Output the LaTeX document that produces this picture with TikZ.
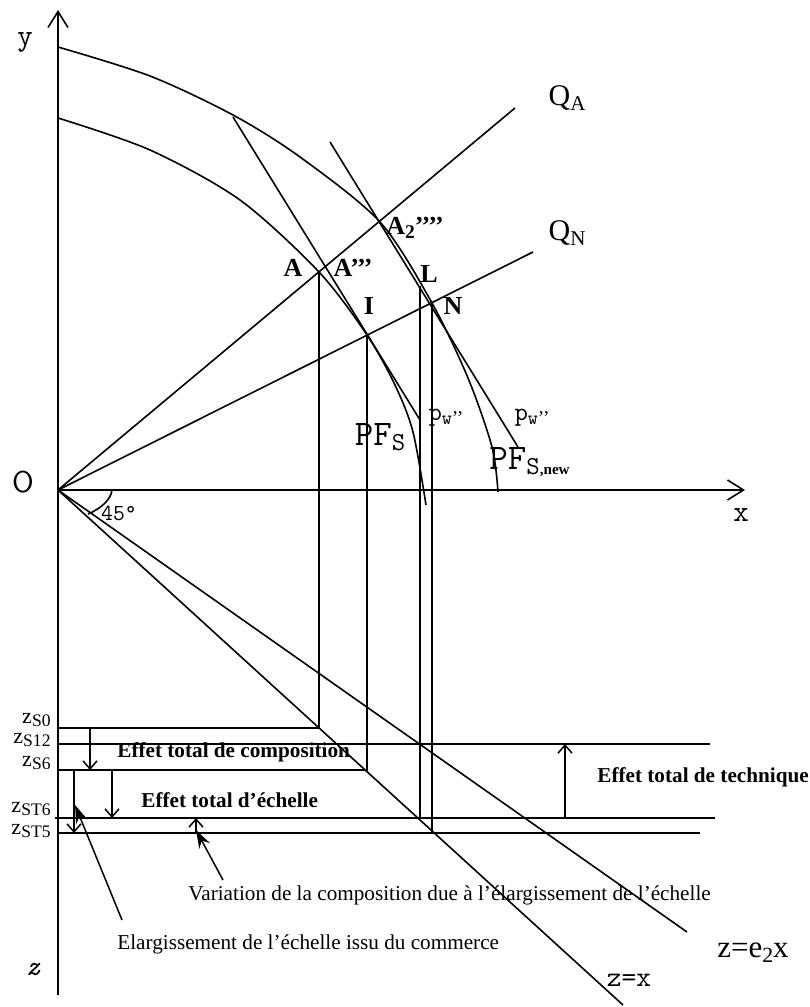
\documentclass[tikz,border=0pt]{standalone}
\usepackage{graphicx}
\usepackage{fontspec}
\setmainfont{Liberation Serif}
\usetikzlibrary{arrows.meta, calc}
\newcommand{\lowsub}[2][0.7]{\raisebox{-0.35ex}{\scalebox{#1}{#2}}}

\begin{document}
\begin{tikzpicture}[
    x=0.5pt, y=-0.5pt,
    every node/.style={inner sep=0pt, font=\fontsize{10.6}{12}\selectfont},
    thin line/.style={line width=0.8pt},
    axis/.style={line width=0.8pt, -{Straight Barb[length=8pt, width=10pt]}},
    pt/.style={font=\fontsize{13}{15}\selectfont\bfseries},
    tw/.style={font=\fontsize{15}{17}\selectfont\ttfamily},
    qlab/.style={font=\fontsize{15}{17}\selectfont},
    zlev/.style={font=\fontsize{11}{13}\selectfont, anchor=east},
    eff/.style={font=\fontsize{10.6}{12}\selectfont\bfseries, anchor=west},
    note/.style={anchor=west},
    tick/.style={line width=0.75pt, -{Straight Barb[length=4pt, width=7pt]}},
    pointer/.style={line width=0.75pt, -{Stealth[length=9pt, width=6pt]}},
]
\useasboundingbox (0,0) rectangle (809,1007);

% key points
\coordinate (O) at (58,490);
\coordinate (ytop) at (58,10);
\coordinate (zend) at (58,995);
\coordinate (xend) at (745,490);
\coordinate (A) at (319,272);
\coordinate (I) at (367,335);
\coordinate (L) at (420,286);
\coordinate (N) at (432,303);
\coordinate (A2) at (380,221);
\coordinate (qa) at (515,108);
\coordinate (qn) at (533,252);

% z levels on the left axis
\coordinate (zs0) at (58,728);
\coordinate (zs12) at (58,744);
\coordinate (zs6) at (58,770);
\coordinate (zst6) at (58,818);
\coordinate (zst5) at (58,833);

% axes
\draw[axis] (zend) -- (ytop);
\draw[axis] (O) -- (xend);
\node[tw] (ylab) at (25,42) {y};
\node[tw, font=\fontsize{15}{17}\selectfont\sffamily] (olab) at (23,482) {O};
\node[tw] (xlab) at (741,515) {x};
\node[tw, font=\fontsize{14}{16}\selectfont\ttfamily\itshape] (zlab) at (33,969) {z};

% production frontiers
\draw[thin line] plot[smooth] coordinates {(58,47) (150,76) (233,115) (300,157) (380,222) (432,303) (468,378) (492,447) (498,492)};
\draw[thin line] plot[smooth] coordinates {(58,118) (150,150) (240,200) (319,272) (367,335) (395,385) (413,432) (426,505)};

% price lines
\draw[thin line] (233,117) -- (420,420);
\draw[thin line] (330,142) -- (518,447);

% rays from the origin
\draw[thin line] (O) -- (qa);
\draw[thin line] (O) -- (qn);
\node[qlab] (QA) at (567,98) {Q\lowsub{A}};
\node[qlab] (QN) at (567,233) {Q\lowsub{N}};

% z lines below the x axis
\draw[thin line] (O) -- (623,1005);
\draw[thin line] (O) -- (687,932);
\draw[thin line] (112,490) .. controls (111,500) and (100,509) .. (88,514);
\node[tw, font=\fontsize{11.5}{13}\selectfont\ttfamily] (deg) at (119,513) {45°};

% point labels
\node[pt] (Alab) at (293,268) {A};
\node[pt] (A3lab) at (353,268) {A’’’};
\node[pt] (A2lab) at (415,228) {A\lowsub[0.75]{2}’’’’};
\node[pt] (Llab) at (429,274) {L};
\node[pt] (Ilab) at (369,306) {I};
\node[pt] (Nlab) at (453,306) {N};
\node[tw, font=\fontsize{18}{20}\selectfont\ttfamily] (pfs) at (380,437) {PF\lowsub[0.72]{S}};
\node[tw, font=\fontsize{18}{20}\selectfont\ttfamily, anchor=west] (pfsnew) at (489,462) {PF\raisebox{-0.35ex}{\scalebox{0.72}{S}\scalebox{0.42}{\rmfamily\bfseries ,new}}};
\node[tw, font=\fontsize{13}{15}\selectfont\ttfamily] (pw1) at (446,418) {p\lowsub[0.75]{w\rmfamily ’’}};
\node[tw, font=\fontsize{13}{15}\selectfont\ttfamily] (pw2) at (532,418) {p\lowsub[0.75]{w\rmfamily ’’}};

% projections down to the z levels
\draw[thin line] (A) -- (A |- zs0) -- (zs0);
\draw[thin line] (I) -- (I |- zs6) -- (zs6);
\draw[thin line] (L) -- (L |- zst6);
\draw[thin line] (N) -- (N |- zst5);
\draw[thin line] (zs12) -- ++(652,0);
\draw[thin line] (55,818) -- (715,818);
\draw[thin line] (zst5) -- (700,833);

\node[zlev] (zS0) at (51,720) {z\lowsub[0.8]{S0}};
\node[zlev] (zS12) at (51,740) {z\lowsub[0.8]{S12}};
\node[zlev] (zS6) at (51,763) {z\lowsub[0.8]{S6}};
\node[zlev] (zST6) at (51,809) {z\lowsub[0.8]{ST6}};
\node[zlev] (zST5) at (51,831) {z\lowsub[0.8]{ST5}};

% effects
\draw[tick] (90,728) -- (90,770);
\draw[tick] (112,770) -- (112,818);
\draw[tick] (74,770) -- (74,833);
\draw[tick] (196,833) -- (196,818);
\draw[tick] (565,818) -- (565,744);
\node[eff] (comp) at (117,752) {Effet total de composition};
\node[eff] (ech) at (141,800) {Effet total d’échelle};
\node[eff] (tech) at (597,777) {Effet total de technique};

% annotations
\node[note] (var) at (188,895) {Variation de la composition due à l’élargissement de l’échelle};
\node[note] (elarg) at (117,944) {Elargissement de l’échelle issu du commerce};
\coordinate (varfoot) at (223,880);
\coordinate (elfoot) at (122,920);
\draw[pointer] (varfoot) -- (196,830);
\draw[pointer] (elfoot) -- (75,805);

\node[qlab, font=\fontsize{15.5}{17}\selectfont] (ze2) at (753,953) {z=e\lowsub{2}x};
\node[tw, font=\fontsize{14.3}{16}\selectfont\ttfamily] (zx) at (629,980) {z=x};
\end{tikzpicture}
\end{document}
